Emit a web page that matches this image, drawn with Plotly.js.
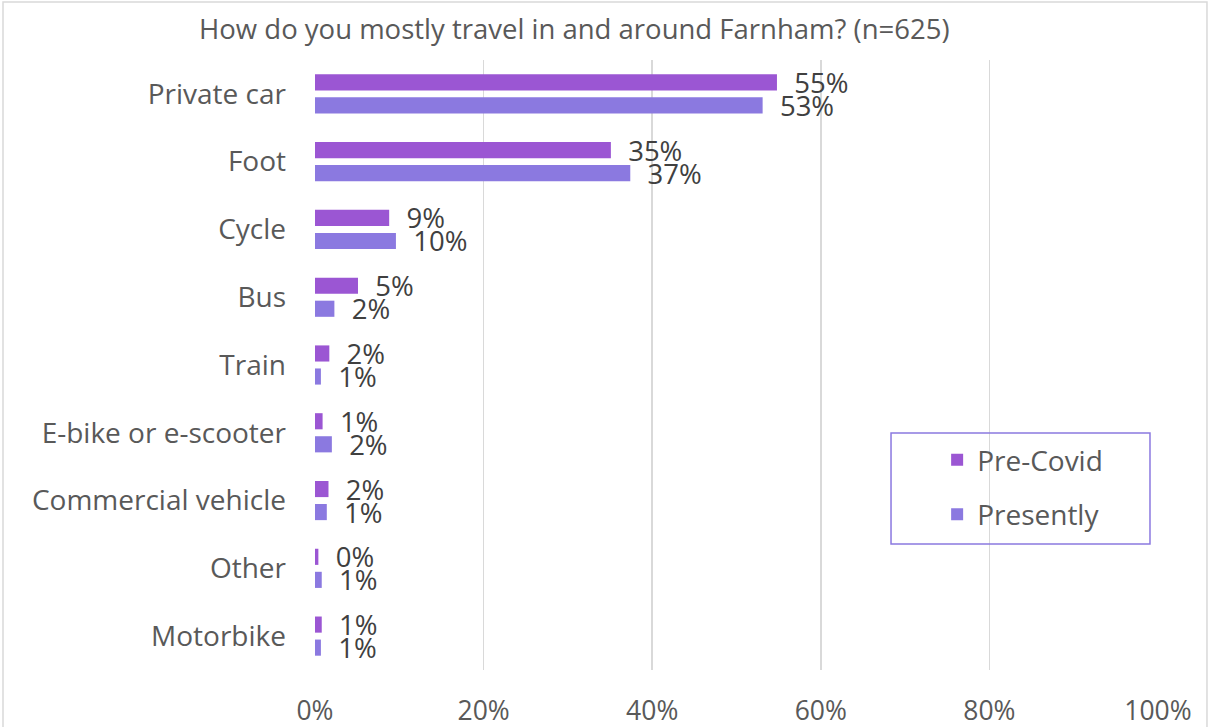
<!DOCTYPE html>
<html>
<head>
<meta charset="utf-8">
<script src="https://cdn.plot.ly/plotly-3.0.1.min.js"></script>
<style>html,body{margin:0;padding:0;background:#fff;}#chart{width:1209px;height:727px;}</style>
</head>
<body>
<div id="chart"></div>
<script>
const categories = ["Private car","Foot","Cycle","Bus","Train","E-bike or e-scooter","Commercial vehicle","Other","Motorbike"];
const preCovid = [54.8, 35.1, 8.8, 5.1, 1.7, 0.9, 1.6, 0.4, 0.8];
const presently = [53.1, 37.4, 9.6, 2.3, 0.7, 2.0, 1.4, 0.8, 0.7];
const xTickVals = [0, 20, 40, 60, 80, 100];
const xTickText = ["0%","20%","40%","60%","80%","100%"];
const titleText = "How do you mostly travel in and around Farnham? (n=625)";

const FONT = "Open Sans, Noto Sans, sans-serif";
const labelFont = {family: FONT, size: 27.5, color: "#404040"};
const pad = "\u00A0\u00A0";

const trace1 = {
  type: "bar", orientation: "h", name: "Pre-Covid",
  y: categories, x: preCovid,
  marker: {color: "#9B56D3"},
  text: preCovid.map(v => pad + Math.round(v) + "%"),
  textposition: "outside", textfont: labelFont, constraintext: "none", cliponaxis: false,
  legendgroup: "a", hoverinfo: "x+y"
};
const trace2 = {
  type: "bar", orientation: "h", name: "Presently",
  y: categories, x: presently,
  marker: {color: "#8B79E0"},
  text: presently.map(v => pad + Math.round(v) + "%"),
  textposition: "outside", textfont: labelFont, constraintext: "none", cliponaxis: false,
  legendgroup: "b", hoverinfo: "x+y"
};

const layout = {
  width: 1209, height: 727,
  margin: {l: 315, r: 51, t: 60, b: 57},
  paper_bgcolor: "#ffffff", plot_bgcolor: "#ffffff",
  font: {family: FONT, color: "#595959", size: 24},
  title: {text: titleText, font: {family: FONT, size: 27.5, color: "#595959"},
          x: 0.475, xanchor: "center", xref: "container", y: 0.96, yanchor: "middle", yref: "container"},
  barmode: "group", bargap: 0.32, bargroupgap: 0.3,
  xaxis: {range: [0, 100], tickvals: xTickVals, ticktext: xTickText, showgrid: true,
          gridcolor: "#d9d9d9", gridwidth: 1.5, zeroline: false, showline: false, ticks: "",
          ticklabelstandoff: 22, tickfont: {family: FONT, size: 26.5, color: "#595959"}, fixedrange: true},
  yaxis: {type: "category", autorange: "reversed", showgrid: false, zeroline: false, showline: false,
          ticks: "", ticklabelstandoff: 28, tickfont: {family: FONT, size: 28, color: "#595959"}},
  showlegend: true,
  legend: {x: 0.738, y: 0.385, xanchor: "left", yanchor: "top", bgcolor: "rgba(0,0,0,0)",
           borderwidth: 0, tracegroupgap: 15, traceorder: "grouped",
           font: {family: FONT, size: 28, color: "#595959"}},
  shapes: [
    {type: "rect", xref: "paper", yref: "paper", x0: 0.6833, x1: 0.9905, y0: 0.2066, y1: 0.3885,
     line: {color: "#8B79E0", width: 1.5}, fillcolor: "rgba(0,0,0,0)", layer: "above"},
    {type: "rect", xref: "paper", yref: "paper", x0: -0.3701, x1: 1.0581, y0: -0.2, y1: 1.0951,
     line: {color: "#d9d9d9", width: 1.5}, fillcolor: "rgba(0,0,0,0)", layer: "below"}
  ]
};

Plotly.newPlot("chart", [trace1, trace2], layout, {displayModeBar: false, staticPlot: true});
</script>
</body>
</html>
